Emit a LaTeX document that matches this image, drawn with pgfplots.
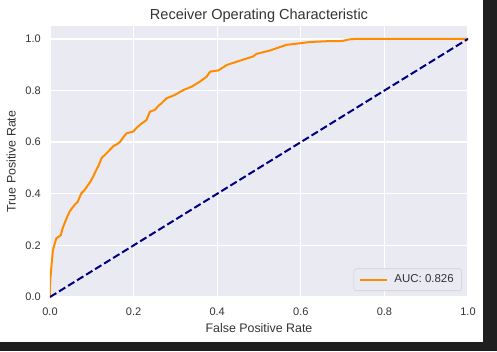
\documentclass[border=0pt]{standalone}
\usepackage{fontspec}
\setmainfont{Liberation Sans}
\usepackage{pgfplots}
\pgfplotsset{compat=1.18}
\definecolor{bgax}{HTML}{EAEAF2}
\definecolor{darkorange}{HTML}{FF8C00}
\definecolor{navyc}{HTML}{000080}
\definecolor{txt}{HTML}{333333}
\definecolor{darkbg}{HTML}{1F1F1F}
\begin{document}
\begin{tikzpicture}
\useasboundingbox (-37.5pt,-40.5pt) rectangle (335.25pt,222.75pt);
\fill[darkbg] (324.75pt,-40.5pt) rectangle (335.25pt,222.75pt);
\fill[darkbg] (-37.5pt,-40.5pt) rectangle (335.25pt,-33.75pt);
\begin{axis}[
  scale only axis,
  width=313.5pt, height=203.25pt,
  xmin=0, xmax=1, ymin=0, ymax=1.05,
  xtick={0,0.2,0.4,0.6,0.8,1.0},
  ytick={0,0.2,0.4,0.6,0.8,1.0},
  axis background/.style={fill=bgax},
  axis line style={draw=none},
  major tick length=0pt,
  grid=major,
  major grid style={white, line width=1pt},
  /pgf/number format/assume math mode=true,
  /pgf/number format/.cd, fixed, fixed zerofill, precision=1, /pgfplots/.cd,
  ticklabel style={font=\fontsize{8.25}{10}\selectfont, text=txt},
  xticklabel style={anchor=base, yshift=-13.5pt, inner sep=0pt},
  yticklabel style={anchor=east, xshift=-6.75pt, inner sep=0pt},
  every axis title shift=0pt,
  title={Receiver Operating Characteristic},
  title style={at={(axis description cs:0.5,1.0258)}, anchor=base, inner sep=0pt, font=\fontsize{10.9}{12}\selectfont, text=txt},
  xlabel={False Positive Rate},
  xlabel style={at={(axis description cs:0.5,0)}, anchor=base, yshift=-26.25pt, inner sep=0pt, font=\fontsize{9.3}{11}\selectfont, text=txt},
  ylabel={True Positive Rate},
  ylabel style={at={(axis description cs:-0.0825,0.5)}, anchor=base, inner sep=0pt, font=\fontsize{9.3}{11}\selectfont, text=txt},
  legend style={at={(rel axis cs:0.9856,0.0221)}, anchor=south east, draw=black!18, fill=bgax, rounded corners=2pt,
    font=\fontsize{8.6}{10}\selectfont, text=txt, inner xsep=4pt, inner ysep=2.5pt, column sep=3pt},
  legend cell align=left,
  legend image code/.code={\draw[#1] (0pt,0pt) -- (20pt,0pt);},
]
\addplot[color=darkorange, line width=1.5pt] coordinates {
(0,0) (0,0.05) (0.002,0.092) (0.004,0.13) (0.007,0.182) (0.012,0.21) (0.015,0.227)
(0.022,0.235) (0.026,0.240) (0.030,0.265) (0.035,0.286) (0.041,0.31) (0.047,0.331)
(0.053,0.345) (0.059,0.357) (0.066,0.368) (0.075,0.402) (0.083,0.415) (0.091,0.434)
(0.097,0.448) (0.103,0.466) (0.110,0.49) (0.115,0.505) (0.124,0.540) (0.131,0.550)
(0.140,0.565) (0.152,0.585) (0.160,0.592) (0.167,0.600) (0.175,0.618) (0.183,0.634)
(0.199,0.641) (0.207,0.655) (0.215,0.667) (0.231,0.686) (0.239,0.718) (0.251,0.725)
(0.259,0.740) (0.267,0.751) (0.279,0.770) (0.299,0.783) (0.319,0.802) (0.339,0.815)
(0.359,0.835) (0.375,0.854) (0.383,0.873) (0.403,0.878) (0.423,0.899) (0.455,0.916)
(0.486,0.932) (0.494,0.942) (0.526,0.955) (0.542,0.964) (0.566,0.977) (0.598,0.983)
(0.622,0.988) (0.662,0.991) (0.700,0.992) (0.715,0.998) (0.730,1.0) (0.95,1.0) (1.0,1.0)
};
\addlegendentry{AUC: 0.826}
\addplot[color=navyc, line width=1.5pt, dash pattern=on 5.55pt off 2.4pt, forget plot] coordinates {(0,0) (1,1)};
\end{axis}
\end{tikzpicture}
\end{document}
